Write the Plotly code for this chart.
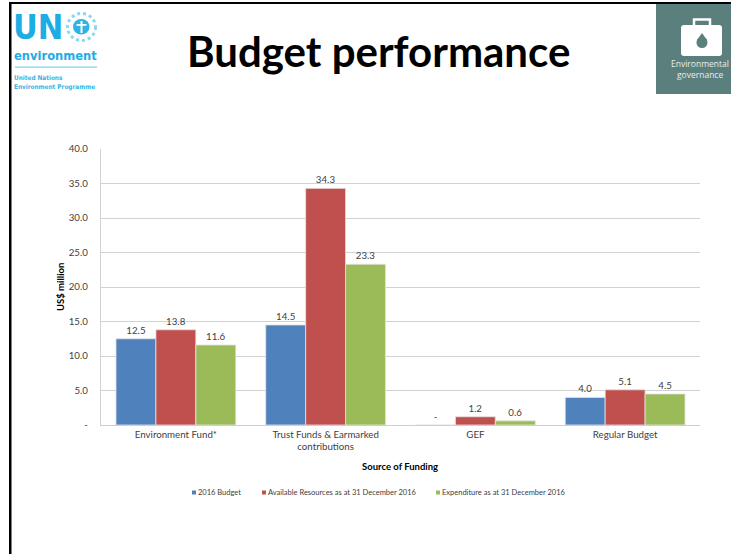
import plotly.graph_objects as go

W, H = 731, 554

categories = ["Environment Fund*", "Trust Funds & Earmarked<br>contributions", "GEF", "Regular Budget"]
budget_2016 = [12.5, 14.5, 0, 4.0]
available = [13.8, 34.3, 1.2, 5.1]
expenditure = [11.6, 23.3, 0.6, 4.5]
y_ticks = [0, 5, 10, 15, 20, 25, 30, 35, 40]
y_tick_labels = ["-", "5.0", "10.0", "15.0", "20.0", "25.0", "30.0", "35.0", "40.0"]
series_names = ["2016 Budget", "Available Resources as at 31 December 2016", "Expenditure as at 31 December 2016"]
series_colors = ["#4f81bd", "#c0504d", "#9bbb59"]

TEXT = "#404040"
FONT = "Lato"
LOGO_FONT = "DejaVu Sans Condensed"


def px(x):
    return x / W


def py(y):
    return 1 - y / H


def label(v):
    return "-" if v == 0 else f"{v:.1f}"


fig = go.Figure()
for name, values, color in zip(series_names, [budget_2016, available, expenditure], series_colors):
    fig.add_trace(go.Bar(
        name=name, x=categories, y=values,
        marker=dict(color=color, line=dict(color="#e4e4e4", width=0.8)),
        text=[label(v) for v in values], textposition="outside", cliponaxis=False,
        textfont=dict(size=9.7, color=TEXT, family=FONT),
        showlegend=False,
    ))

shapes = []
annotations = []


def note(x, y, text, size, color=TEXT, bold=False, xanchor="center", family=FONT, angle=0):
    body = f"<b>{text}</b>" if bold else text
    annotations.append(dict(
        x=px(x), y=py(y), xref="paper", yref="paper", text=body, showarrow=False,
        xanchor=xanchor, yanchor="middle", textangle=angle, borderpad=0, borderwidth=0,
        font=dict(size=size, color=color, family=family),
    ))


def box(x0, y0, x1, y1, color, kind="rect"):
    shapes.append(dict(type=kind, xref="paper", yref="paper", x0=px(x0), x1=px(x1),
                       y0=py(y0), y1=py(y1), fillcolor=color, line=dict(width=0), layer="above"))


def rounded(x0, y0, x1, y1, r, color):
    p = (f"M {px(x0 + r)} {py(y0)} L {px(x1 - r)} {py(y0)} Q {px(x1)} {py(y0)} {px(x1)} {py(y0 + r)} "
         f"L {px(x1)} {py(y1 - r)} Q {px(x1)} {py(y1)} {px(x1 - r)} {py(y1)} "
         f"L {px(x0 + r)} {py(y1)} Q {px(x0)} {py(y1)} {px(x0)} {py(y1 - r)} "
         f"L {px(x0)} {py(y0 + r)} Q {px(x0)} {py(y0)} {px(x0 + r)} {py(y0)} Z")
    shapes.append(dict(type="path", xref="paper", yref="paper", path=p, fillcolor=color,
                       line=dict(width=0), layer="above"))


# Slide frame along the top and left edges
box(9, 2, 731, 4, "#000000")
box(9, 2, 11.5, 554, "#000000")

# Slide title and axis captions
note(378, 51, "Budget performance", 42, "#000000", bold=True)
note(400, 466, "Source of Funding", 9.5, "#000000", bold=True)
note(60, 287, "US$ million", 9.5, "#000000", bold=True, angle=-90)

# Organisation logo
BLUE = "#1cade4"
note(13, 27, "UN", 34, BLUE, bold=True, xanchor="left", family=LOGO_FONT)
note(14, 55.5, "environment", 12.8, BLUE, bold=True, xanchor="left", family=LOGO_FONT)
box(15, 66.5, 97, 67.8, "#7fd3f2")
note(14, 77.5, "United Nations", 6.4, "#35b4e6", bold=True, xanchor="left", family=LOGO_FONT)
note(14, 87, "Environment Programme", 6.4, "#35b4e6", bold=True, xanchor="left", family=LOGO_FONT)
shapes.append(dict(type="circle", xref="paper", yref="paper", x0=px(67.5), x1=px(95.5), y0=py(13.5), y1=py(40.5),
                   line=dict(color="#8ad6f3", width=3, dash="dot"), layer="above"))
box(73, 19, 89.5, 34.5, "#2fb2e6", "circle")
box(80.5, 21, 82.5, 33, "#ffffff")
box(76.5, 24, 86.5, 25.8, "#ffffff")

# Thematic badge in the top right corner
box(656, 4, 731, 94, "#5b7f7c")
shapes.append(dict(type="rect", xref="paper", yref="paper", x0=px(694), x1=px(710), y0=py(27), y1=py(19.5),
                   line=dict(color="#ffffff", width=2.5), layer="above"))
rounded(681, 25, 722, 56, 3, "#ffffff")
box(696.5, 37, 707.5, 48, "#5b7f7c", "circle")
shapes.append(dict(type="path", xref="paper", yref="paper",
                   path=f"M {px(702)} {py(33)} L {px(697)} {py(40)} L {px(707)} {py(40)} Z",
                   fillcolor="#5b7f7c", line=dict(width=0), layer="above"))
note(700, 64, "Environmental", 8.5, "#e8eeee", family="Open Sans")
note(700, 74, "governance", 8.5, "#e8eeee", family="Open Sans")

# Compact key below the chart
key_x = [192, 262, 436]
for x, name, color in zip(key_x, series_names, series_colors):
    box(x, 490.5, x + 4, 494.5, color)
    note(x + 6, 492.5, name, 7.5, TEXT, xanchor="left")

fig.update_layout(
    width=W, height=H, margin=dict(l=0, r=0, t=0, b=0, pad=0, autoexpand=False),
    paper_bgcolor="#ffffff", plot_bgcolor="#ffffff",
    barmode="group", bargap=0.2, bargroupgap=0,
    font=dict(family=FONT, color=TEXT),
    shapes=shapes, annotations=annotations,
    xaxis=dict(domain=[px(101), px(700)], showgrid=False, showline=True, linecolor="#cfcfcf", linewidth=1.3,
               ticks="", tickfont=dict(size=9.7, color=TEXT), tickangle=0),
    yaxis=dict(domain=[py(425), py(149)], range=[0, 40], tickvals=y_ticks, ticktext=y_tick_labels,
               showgrid=True, gridcolor="#d2d2d2", gridwidth=1.2, zeroline=False,
               showline=True, linecolor="#d2d2d2", linewidth=1.3,
               ticks="", ticklabelstandoff=10, tickfont=dict(size=9.7, color=TEXT)),
)

fig.write_html("out.html")
